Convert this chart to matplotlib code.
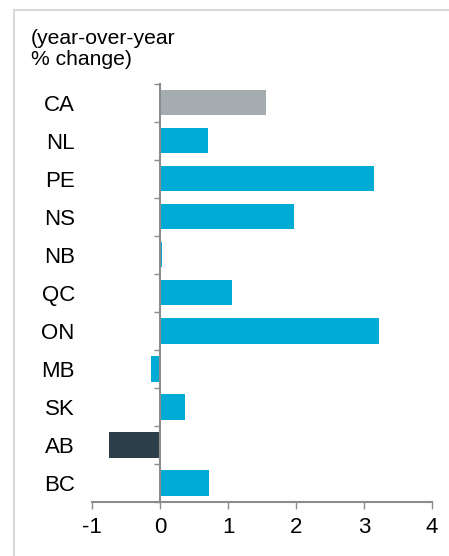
import matplotlib.pyplot as plt
from matplotlib.lines import Line2D
import numpy as np

REGIONS = ["CA", "NL", "PE", "NS", "NB", "QC", "ON", "MB", "SK", "AB", "BC"]
CHANGE = [1.56, 0.71, 3.14, 1.97, 0.03, 1.05, 3.22, -0.14, 0.37, -0.76, 0.72]
X_TICKS = [-1, 0, 1, 2, 3, 4]

BLUE = "#00ACD6"
GREY = "#A6ADB1"
DARK = "#2C3F48"
SPINE = "#8C8C8C"
FRAME = "#D9D9D9"

SPECIAL = {"CA": GREY, "AB": DARK}

plt.rcParams["font.family"] = ["Liberation Sans", "DejaVu Sans"]

fig = plt.figure(figsize=(4.49, 5.56), dpi=100, facecolor="white")
ax = fig.add_axes([0.2056, 0.0971, 0.7566, 0.752])

n = len(REGIONS)
y = np.arange(n)
colors = [SPECIAL.get(r, BLUE) for r in REGIONS]
ax.barh(y, CHANGE, height=0.66, color=colors, edgecolor="none", zorder=2)

ax.set_xlim(-1, 4)
ax.set_ylim(n - 0.5, -0.5)
ax.set_xticks(X_TICKS)
ax.set_xticklabels([str(t) for t in X_TICKS])

ax.set_yticks(y)
ax.set_yticklabels(REGIONS, ha="center")
ax.set_yticks(np.arange(n + 1) - 0.5, minor=True)

for side in ("top", "right"):
    ax.spines[side].set_visible(False)
ax.spines["left"].set_position(("data", 0))
for side in ("left", "bottom"):
    ax.spines[side].set_color(SPINE)
    ax.spines[side].set_linewidth(1.5)
    ax.spines[side].set_zorder(3)

ax.tick_params(axis="y", which="major", length=0, pad=61.5, labelsize=16, colors="black")
ax.tick_params(axis="y", which="minor", length=4.3, width=1.0, color=SPINE)
ax.tick_params(axis="x", length=5, width=1.0, color=SPINE, labelsize=16, pad=6)

fig.text(0.069, 0.947, "(year-over-year\n% change)", ha="left", va="top",
         fontsize=15.2, linespacing=1.1, color="black")

# light frame on the top and left
fig.add_artist(Line2D([13.5 / 449, 1.0], [1 - 9.5 / 556] * 2, color=FRAME, lw=1.5,
                      transform=fig.transFigure))
fig.add_artist(Line2D([13.5 / 449] * 2, [0.0, 1 - 9.5 / 556], color=FRAME, lw=1.5,
                      transform=fig.transFigure))

fig.savefig("out.png", dpi=100, facecolor="white")
